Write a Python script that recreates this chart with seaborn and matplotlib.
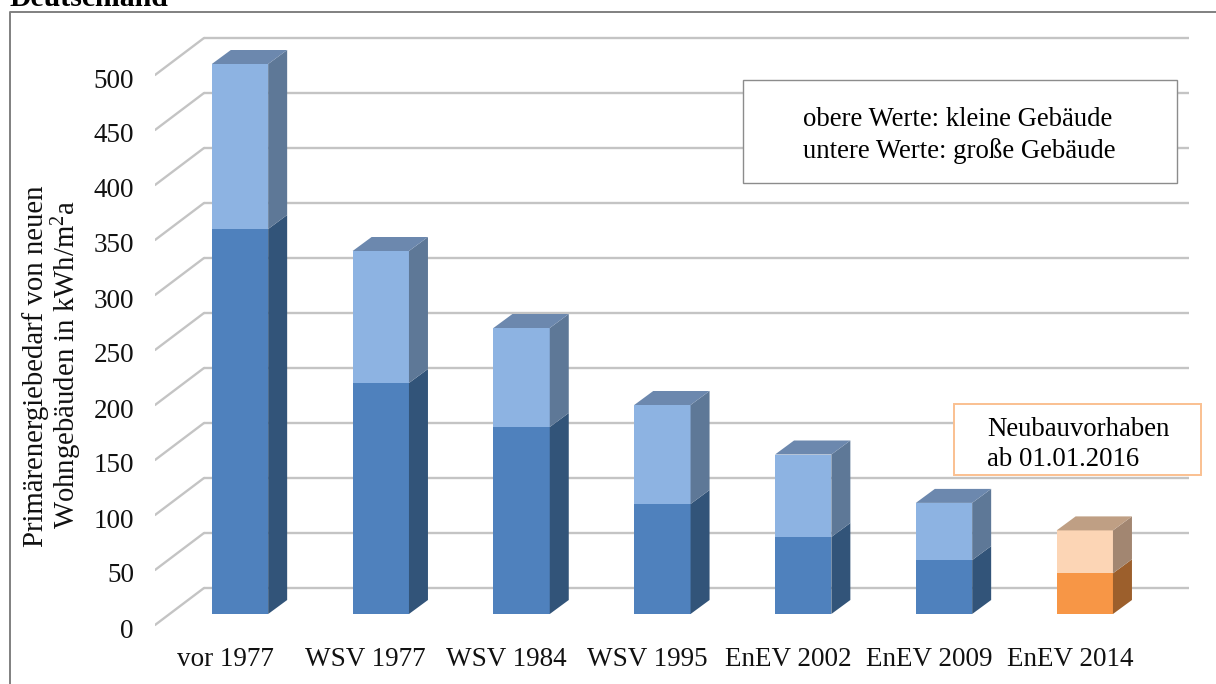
import matplotlib
matplotlib.use("Agg")
import matplotlib.pyplot as plt
from matplotlib.patches import Rectangle
from matplotlib.transforms import ScaledTranslation
import seaborn as sns

categories = ["vor 1977", "WSV 1977", "WSV 1984", "WSV 1995", "EnEV 2002", "EnEV 2009", "EnEV 2014"]
upper_values = [500, 330, 260, 190, 145, 101, 76]
lower_values = [350, 210, 170, 100, 70, 49, 37]
y_ticks = list(range(0, 501, 50))

W, H = 1216, 684
DPI = 100
sns.set_theme(style="white")
plt.rcParams["font.family"] = ["Liberation Serif", "DejaVu Serif"]
plt.rcParams["mathtext.fontset"] = "custom"
plt.rcParams["mathtext.rm"] = "Liberation Serif"
fig = plt.figure(figsize=(W / DPI, H / DPI), dpi=DPI, facecolor="white")

# axes box in reference pixels
L, R, T, B = 155, 1216, 12, 636
ax = fig.add_axes([L / W, 1 - B / H, (R - L) / W, (B - T) / H])
ax.set_facecolor("none")

upper_front = ["#8db3e2"] * 6 + ["#fcd5b5"]
lower_front = ["#4f81bd"] * 6 + ["#f79646"]
upper_side = ["#5e7897"] * 6 + ["#a28671"]
lower_side = ["#325479"] * 6 + ["#9c5f2c"]
roof = ["#6c88ae"] * 6 + ["#bf9f84"]

BW = 0.40
sns.barplot(x=categories, y=upper_values, hue=categories, palette=upper_front, legend=False,
            width=BW, saturation=1, ax=ax, order=categories, zorder=3, linewidth=0)
sns.barplot(x=categories, y=lower_values, hue=categories, palette=lower_front, legend=False,
            width=BW, saturation=1, ax=ax, order=categories, zorder=3, linewidth=0)

XS, YS = 140.8, 1.1
ax.set_xlim((L - 240) / XS, (R - 240) / XS)
ax.set_ylim((614 - B) / YS, (614 - T) / YS)

dx, dy = 19 / XS, 14 / YS
for i in range(len(categories)):
    x1 = i + BW / 2
    x0 = i - BW / 2
    lo, up = lower_values[i], upper_values[i]
    ax.fill([x1, x1 + dx, x1 + dx, x1], [0, dy, lo + dy, lo], color=lower_side[i], lw=0, zorder=3)
    ax.fill([x1, x1 + dx, x1 + dx, x1], [lo, lo + dy, up + dy, up], color=upper_side[i], lw=0, zorder=3)
    ax.fill([x0, x0 + dx, x1 + dx, x1], [up, up + dy, up + dy, up], color=roof[i], lw=0, zorder=3)

# back wall grid and left floor diagonals
back_x0, back_x1 = (204 - 240) / XS, (1189 - 240) / XS
wall = 26 / YS
front = -11 / YS
for v in y_ticks:
    ax.plot([back_x0, back_x1], [v + wall, v + wall], color="#c4c4c4", lw=1.7, zorder=1, solid_capstyle="butt")
    ax.plot([(155 - 240) / XS, back_x0], [v + front, v + wall], color="#c4c4c4", lw=1.7, zorder=1)

ax.set_yticks(y_ticks)
ax.set_yticklabels([str(v) for v in y_ticks], fontsize=19.5, color="#111111")
ax.tick_params(axis="y", length=0, pad=21 * 72 / DPI)
ax.tick_params(axis="x", length=0, pad=11 * 72 / DPI, labelsize=19.5, labelcolor="#111111")
shift_y = ScaledTranslation(0, -14 / DPI, fig.dpi_scale_trans)
for lab in ax.get_yticklabels():
    lab.set_transform(lab.get_transform() + shift_y)
shift_x = ScaledTranslation(-15 / DPI, 0, fig.dpi_scale_trans)
for lab in ax.get_xticklabels():
    lab.set_transform(lab.get_transform() + shift_x)
for s in ax.spines.values():
    s.set_visible(False)
ax.set_xlabel("")
ax.grid(False)

fig.text(36 / W, 1 - 366 / H, "Primärenergiebedarf von neuen",
         rotation=90, ha="center", va="center", fontsize=20.7, color="#111111")
fig.text(67 / W, 1 - 365 / H, r"Wohngebäuden in kWh/m$\mathregular{^2}$a",
         rotation=90, ha="center", va="center", fontsize=20.7, color="#111111")


def box(x0, y0, x1, y1, edge, lw):
    fig.add_artist(Rectangle((x0 / W, 1 - y1 / H), (x1 - x0) / W, (y1 - y0) / H,
                             transform=fig.transFigure, facecolor="white", edgecolor=edge, lw=lw))


def serif_text(x, y, s, size, **kw):
    fig.text(x / W, 1 - y / H, s, family="Liberation Serif", fontsize=size, color="black",
             va="center", ha="left", **kw)


# outer frame
fig.add_artist(plt.Line2D([10 / W, 10 / W, 1], [0, 1 - 12 / H, 1 - 12 / H],
                          transform=fig.transFigure, color="#808080", lw=1.4))
serif_text(10, -1, "Deutschland", 21.4, weight="bold")

box(743, 80, 1177, 183, "#8c8c8c", 1.0)
serif_text(803, 120, "obere Werte: kleine Gebäude", 19.3)
serif_text(803, 151, "untere Werte: große Gebäude", 19.3)

box(954, 404, 1201, 475, "#fac090", 1.4)
serif_text(987, 429, "Neubauvorhaben", 19.3)
serif_text(987, 460, "ab 01.01.2016", 19.3)

fig.savefig("out.png", dpi=DPI, facecolor="white")
